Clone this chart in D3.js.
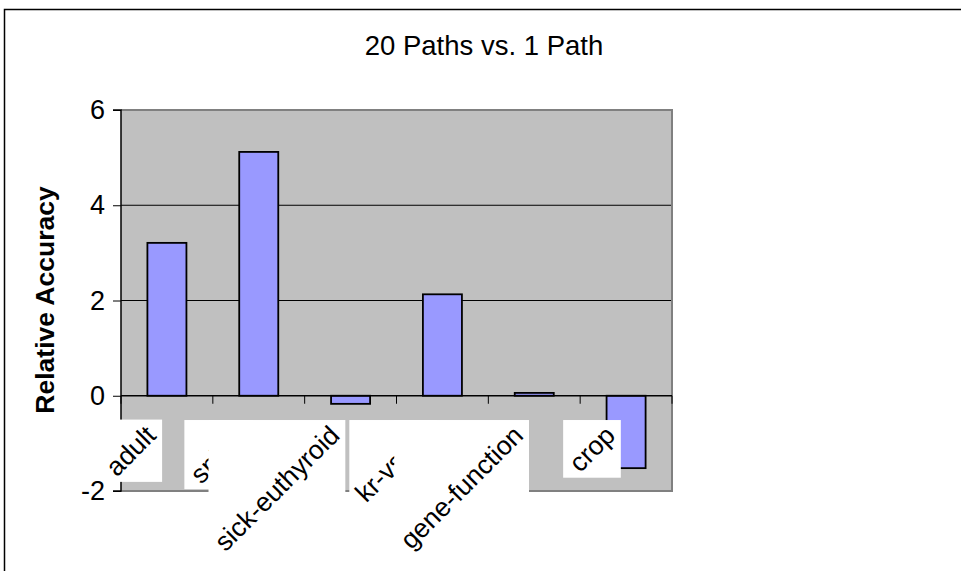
<!DOCTYPE html>
<html>
<head>
<meta charset="utf-8">
<script src="https://cdn.jsdelivr.net/npm/d3@7/dist/d3.min.js"></script>
<style>
  html, body { margin: 0; padding: 0; background: #fff; }
  svg { display: block; font-family: Arial, "Liberation Sans", sans-serif; }
</style>
</head>
<body>
<svg id="chart" width="961" height="571"></svg>
<script>
// Relative accuracy of 20 paths compared with 1 path, per dataset
const categories = ["adult", "splice", "sick-euthyroid", "kr-vs-kp", "gene-function", "crop"];
const values = [3.21, 5.12, -0.17, 2.13, 0.06, -1.52];
const yTicks = [-2, 0, 2, 4, 6];
const titleText = "20 Paths vs. 1 Path";
const yLabel = "Relative Accuracy";

const svg = d3.select("#chart");

const plot = { left: 121, right: 672, top: 110, bottom: 491 };

const y = d3.scaleLinear().domain([-2, 6]).range([plot.bottom, plot.top]);
const pad = 0.575;
const x = d3.scaleBand()
  .domain(categories)
  .range([plot.left, plot.right])
  .paddingInner(pad)
  .paddingOuter(pad / 2);
const step = x.step();

// chart frame
svg.append("rect")
  .attr("x", 4.5).attr("y", 9.5)
  .attr("width", 1000).attr("height", 600)
  .attr("fill", "#fff").attr("stroke", "#000").attr("stroke-width", 1.5);

// title
svg.append("text")
  .attr("x", 484).attr("y", 55)
  .attr("text-anchor", "middle")
  .attr("font-size", 27.5)
  .attr("fill", "#000")
  .text(titleText);

// plot background
svg.append("rect")
  .attr("x", plot.left).attr("y", plot.top)
  .attr("width", plot.right - plot.left).attr("height", plot.bottom - plot.top)
  .attr("fill", "#c0c0c0");

// horizontal gridlines
svg.append("g")
  .selectAll("line")
  .data(yTicks.filter(v => v > -2 && v < 6 && v !== 0))
  .join("line")
  .attr("x1", plot.left).attr("x2", plot.right)
  .attr("y1", d => y(d)).attr("y2", d => y(d))
  .attr("stroke", "#000").attr("stroke-width", 1);

// plot border (top, right, bottom)
svg.append("path")
  .attr("d", `M${plot.left},${plot.top}H${plot.right}V${plot.bottom}H${plot.left}`)
  .attr("fill", "none").attr("stroke", "#808080").attr("stroke-width", 2);

// bars
svg.append("g")
  .selectAll("rect")
  .data(categories.map((c, i) => ({ c, v: values[i] })))
  .join("rect")
  .attr("x", d => x(d.c))
  .attr("width", x.bandwidth())
  .attr("y", d => y(Math.max(0, d.v)))
  .attr("height", d => Math.abs(y(d.v) - y(0)))
  .attr("fill", "#9999ff")
  .attr("stroke", "#000").attr("stroke-width", 1.8);

// y axis
const yAxis = d3.axisLeft(y).tickValues(yTicks).tickSize(8).tickPadding(8).tickFormat(d => String(d));
const gy = svg.append("g").attr("transform", `translate(${plot.left},0)`).call(yAxis);
gy.select(".domain").attr("stroke", "#000").attr("stroke-width", 1.5).attr("d", `M-8,${plot.top}H0V${plot.bottom}H-8`);
gy.selectAll(".tick line").attr("stroke", "#000").attr("stroke-width", 1);
gy.selectAll(".tick text")
  .attr("font-size", 27).attr("fill", "#000")
  .attr("font-family", "Arial, 'Liberation Sans', sans-serif");

// x axis along zero, with ticks at category boundaries
svg.append("line")
  .attr("x1", plot.left).attr("x2", plot.right)
  .attr("y1", y(0)).attr("y2", y(0))
  .attr("stroke", "#000").attr("stroke-width", 1.5);
svg.append("g")
  .selectAll("line")
  .data(d3.range(categories.length + 1))
  .join("line")
  .attr("x1", i => plot.left + i * step).attr("x2", i => plot.left + i * step)
  .attr("y1", y(0)).attr("y2", y(0) + 8)
  .attr("stroke", "#000").attr("stroke-width", 1);

// y axis title
svg.append("text")
  .attr("transform", `translate(54,300) rotate(-90)`)
  .attr("text-anchor", "middle")
  .attr("font-size", 26.5).attr("font-weight", "bold")
  .attr("fill", "#000")
  .text(yLabel);

// category labels, each on an opaque white box (its rotated em box) drawn in order
const labels = svg.append("g");
const rad = Math.PI / 4;
categories.forEach((c, i) => {
  const g = labels.append("g");
  const box = g.append("rect").attr("fill", "#fff");
  const cx = x(c) + x.bandwidth() / 2 - 9.5;
  const cy = 437;
  const t = g.append("text")
    .attr("transform", `translate(${cx},${cy}) rotate(-45)`)
    .attr("text-anchor", "end")
    .attr("font-size", 26.5)
    .attr("fill", "#000")
    .text(c);
  const bb = t.node().getBBox();
  const corners = [
    [bb.x, bb.y], [bb.x + bb.width, bb.y],
    [bb.x, bb.y + bb.height], [bb.x + bb.width, bb.y + bb.height]
  ].map(([px, py]) => [
    cx + px * Math.cos(rad) + py * Math.sin(rad),
    cy - px * Math.sin(rad) + py * Math.cos(rad)
  ]);
  const xs = corners.map(p => p[0]), ys = corners.map(p => p[1]);
  const left = Math.max(plot.left - 1, d3.min(xs));
  box.attr("x", left).attr("y", d3.min(ys))
    .attr("width", d3.max(xs) - left).attr("height", d3.max(ys) - d3.min(ys));
});
</script>
</body>
</html>
